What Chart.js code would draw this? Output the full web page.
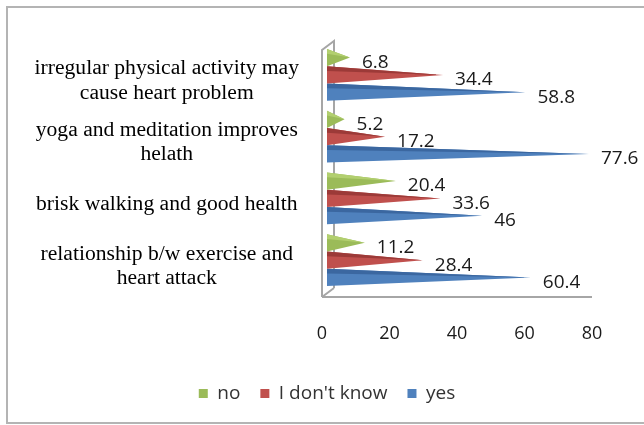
<!DOCTYPE html>
<html>
<head>
  <meta charset="UTF-8">
  <title>Exercise and heart health</title>
  <style>
    html, body {
      margin: 0;
      padding: 0;
      background-color: #fff;
      overflow: hidden;
    }

    .grafica-container {
      position: relative;
      width: 644px;
      height: 425px;
    }
  </style>
</head>
<body>
  <div class="grafica-container">
    <canvas id="grafica"></canvas>
  </div>

  <script src="https://cdn.jsdelivr.net/npm/chart.js"></script>
  <script>
    // categories, top to bottom
    var categories = [
      ['irregular physical activity may', 'cause heart problem'],
      ['yoga and meditation improves', 'helath'],
      'brisk walking and good health',
      ['relationship b/w exercise and', 'heart attack']
    ];

    var valuesNo = [6.8, 5.2, 20.4, 11.2];
    var valuesDontKnow = [34.4, 17.2, 33.6, 28.4];
    var valuesYes = [58.8, 77.6, 46, 60.4];

    var xTicks = [0, 20, 40, 60, 80];

    // colours: front face and the thin top face of each pyramid
    var colours = ['#9bbb59', '#c0504d', '#4f81bd'];
    var topShades = ['#b2cf6f', '#9c3a38', '#3b67a0'];

    // pyramids sit half way into the 3D box
    var depthX = 5;
    var depthY = -6;

    var sansFont = "'Open Sans', 'Liberation Sans', sans-serif";

    // white page with the grey frame around it
    var frame = {
      id: 'frame',
      beforeDraw: function (chart) {
        var ctx = chart.ctx;
        ctx.save();
        ctx.fillStyle = '#fff';
        ctx.fillRect(0, 0, chart.width, chart.height);
        ctx.strokeStyle = '#b4b4b4';
        ctx.lineWidth = 2;
        ctx.strokeRect(7, 7, chart.width + 20, chart.height - 9);
        ctx.restore();
      }
    };

    // legend sits a little right of centre
    var legendShift = {
      id: 'legendShift',
      afterLayout: function (chart) {
        var lg = chart.legend;
        lg.left += 26;
        lg.right += 26;
        lg.top -= 1;
        lg.bottom -= 1;
      }
    };

    // side wall and floor edge of the 3D box
    var box = {
      id: 'box',
      beforeDatasetsDraw: function (chart) {
        var ctx = chart.ctx;
        var a = chart.chartArea;
        var dx = 12, dy = -9;
        ctx.save();
        ctx.strokeStyle = '#a6a6a6';
        ctx.lineWidth = 2;
        ctx.beginPath();
        ctx.moveTo(a.left, a.bottom);
        ctx.lineTo(a.left, a.top);
        ctx.lineTo(a.left + dx, a.top + dy);
        ctx.lineTo(a.left + dx, a.bottom + dy);
        ctx.moveTo(a.left, a.bottom);
        ctx.lineTo(a.left + dx, a.bottom + dy);
        ctx.moveTo(a.left, a.bottom);
        ctx.lineTo(a.right, a.bottom);
        ctx.stroke();
        ctx.restore();
      }
    };

    // each bar is drawn as a pyramid lying on its side
    var pyramids = {
      id: 'pyramids',
      beforeDatasetDraw: function (chart, args) {
        var ctx = chart.ctx;
        var i = args.index;
        args.meta.data.forEach(function (bar) {
          var p = bar.getProps(['x', 'y', 'base', 'height'], true);
          var x0 = p.base + depthX;
          var x1 = p.x + depthX;
          var top = p.y - p.height / 2 + depthY;
          var bottom = p.y + p.height / 2 + depthY;
          var mid = p.y + depthY;

          ctx.save();
          ctx.fillStyle = colours[i];
          ctx.beginPath();
          ctx.moveTo(x0, top);
          ctx.lineTo(x1, mid);
          ctx.lineTo(x0, bottom);
          ctx.closePath();
          ctx.fill();

          ctx.fillStyle = topShades[i];
          ctx.beginPath();
          ctx.moveTo(x0, top);
          ctx.lineTo(x1, mid);
          ctx.lineTo(x0, top + p.height * 0.28);
          ctx.closePath();
          ctx.fill();
          ctx.restore();
        });
        return false;
      },
      afterDatasetsDraw: function (chart) {
        var ctx = chart.ctx;
        ctx.save();
        ctx.font = '19px ' + sansFont;
        ctx.fillStyle = '#1a1a1a';
        ctx.textAlign = 'left';
        ctx.textBaseline = 'middle';
        chart.data.datasets.forEach(function (ds, i) {
          chart.getDatasetMeta(i).data.forEach(function (bar, j) {
            var p = bar.getProps(['x', 'y'], true);
            ctx.fillText(String(ds.data[j]), p.x + depthX + 12, p.y + depthY + 5);
          });
        });
        ctx.restore();
      }
    };

    var ctx = document.getElementById('grafica').getContext('2d');

    var myChart = new Chart(ctx, {
      type: 'bar',
      data: {
        labels: categories,
        datasets: [
          { label: 'no', data: valuesNo, backgroundColor: colours[0] },
          { label: "I don't know", data: valuesDontKnow, backgroundColor: colours[1] },
          { label: 'yes', data: valuesYes, backgroundColor: colours[2] }
        ]
      },
      options: {
        indexAxis: 'y',
        responsive: true,
        maintainAspectRatio: false,
        animation: false,
        layout: {
          padding: { left: 10, right: 52, top: 50, bottom: 11 }
        },
        datasets: {
          bar: {
            categoryPercentage: 0.84,
            barPercentage: 1,
            borderWidth: 0
          }
        },
        scales: {
          x: {
            type: 'linear',
            min: 0,
            max: 80,
            afterBuildTicks: function (scale) {
              scale.ticks = xTicks.map(function (v) { return { value: v }; });
            },
            afterFit: function (scale) {
              scale.height = 68;
            },
            grid: { display: false },
            border: { display: false },
            ticks: {
              padding: 18,
              color: '#1a1a1a',
              font: { family: sansFont, size: 18 }
            }
          },
          y: {
            grid: { display: false },
            border: { display: false },
            afterFit: function (scale) {
              scale.width = 312;
            },
            ticks: {
              crossAlign: 'center',
              padding: 15,
              color: '#000',
              font: { family: "'Liberation Serif', 'Times New Roman', serif", size: 21.6, lineHeight: 1.12 }
            }
          }
        },
        plugins: {
          legend: {
            position: 'bottom',
            labels: {
              boxWidth: 9,
              boxHeight: 9,
              padding: 20,
              color: '#333',
              font: { family: sansFont, size: 19 }
            }
          },
          tooltip: { enabled: false }
        }
      },
      plugins: [frame, legendShift, box, pyramids]
    });
  </script>
</body>
</html>
